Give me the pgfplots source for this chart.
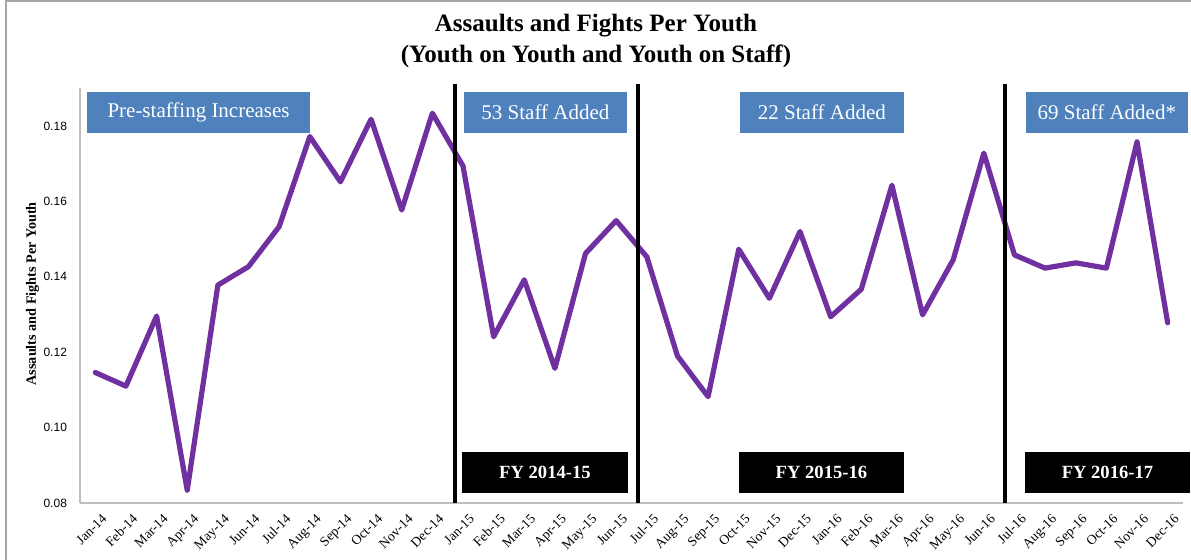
\documentclass[border=0pt]{standalone}
\usepackage{pgfplots}
\pgfplotsset{compat=1.18}
\usetikzlibrary{calc}
\usepackage{fontspec}
\setmainfont{Liberation Serif}
\newfontfamily\arial{Liberation Sans}

\definecolor{linepurple}{HTML}{7030A0}
\definecolor{boxblue}{HTML}{4F81BD}
\definecolor{axisgray}{HTML}{BFBFBF}
\definecolor{framegray}{HTML}{A6A6A6}

\begin{document}
\begin{tikzpicture}[x=1pt,y=1pt]
\begin{axis}[
  scale only axis, width=551.5pt, height=207.5pt,
  xmin=-0.5, xmax=35.5, ymin=0.08, ymax=0.19008,
  axis x line=bottom, axis y line=left,
  axis line style={axisgray, line width=0.8pt, -},
  major tick length=0pt,
  xtick={0,...,35},
  xticklabels={Jan-14,Feb-14,Mar-14,Apr-14,May-14,Jun-14,Jul-14,Aug-14,Sep-14,Oct-14,Nov-14,Dec-14,
               Jan-15,Feb-15,Mar-15,Apr-15,May-15,Jun-15,Jul-15,Aug-15,Sep-15,Oct-15,Nov-15,Dec-15,
               Jan-16,Feb-16,Mar-16,Apr-16,May-16,Jun-16,Jul-16,Aug-16,Sep-16,Oct-16,Nov-16,Dec-16},
  xticklabel style={rotate=45, anchor=north east, font=\fontsize{6.8}{7}\selectfont, inner sep=0.5pt, yshift=-5pt, xshift=-1pt},
  ytick={0.08,0.10,0.12,0.14,0.16,0.18},
  yticklabel style={font=\arial\fontsize{6}{7}\selectfont, xshift=-3pt,
    /pgf/number format/fixed, /pgf/number format/fixed zerofill, /pgf/number format/precision=2,
    /pgf/number format/assume math mode=true},
  ylabel={\bfseries Assaults and Fights Per Youth},
  ylabel style={at={(axis description cs:-0.043,0.504)}, anchor=center, font=\fontsize{7.1}{8}\selectfont},
  clip=false,
]
\addplot[linepurple, line width=2.6pt, line join=round, line cap=round] coordinates {
  (0,0.1146) (1,0.1110) (2,0.1296) (3,0.0834) (4,0.1378) (5,0.1427)
  (6,0.1533) (7,0.1772) (8,0.1652) (9,0.1818) (10,0.1577) (11,0.1834)
  (12,0.1694) (13,0.1241) (14,0.1392) (15,0.1157) (16,0.1462) (17,0.1549)
  (18,0.1453) (19,0.1190) (20,0.1082) (21,0.1473) (22,0.1343) (23,0.1520)
  (24,0.1294) (25,0.1367) (26,0.1643) (27,0.1299) (28,0.1445) (29,0.1728)
  (30,0.1458) (31,0.1423) (32,0.1437) (33,0.1423) (34,0.1758) (35,0.1278)
};

% fiscal-year dividers
\draw[black, line width=2pt] (axis cs:11.74,0.08) -- (axis cs:11.74,0.19114);
\draw[black, line width=2pt] (axis cs:17.71,0.08) -- (axis cs:17.71,0.19114);
\draw[black, line width=2pt] (axis cs:29.69,0.08) -- (axis cs:29.69,0.19114);

% staffing callouts
\fill[boxblue] (axis cs:-0.27,0.1781) rectangle (axis cs:7.01,0.1890);
\node[white, font=\fontsize{10.5}{12}\selectfont] at (axis cs:3.37,0.18355) {Pre-staffing Increases};
\fill[boxblue] (axis cs:12.03,0.1781) rectangle (axis cs:17.35,0.1890);
\node[white, font=\fontsize{10.5}{12}\selectfont] at (axis cs:14.69,0.18355) {53 Staff Added};
\fill[boxblue] (axis cs:21.04,0.1781) rectangle (axis cs:26.39,0.1890);
\node[white, font=\fontsize{10.5}{12}\selectfont] at (axis cs:23.715,0.18355) {22 Staff Added};
\fill[boxblue] (axis cs:30.37,0.1781) rectangle (axis cs:35.66,0.1890);
\node[white, font=\fontsize{10.5}{12}\selectfont] at (axis cs:33.015,0.18355) {69 Staff Added*};

% fiscal-year labels
\fill[black] (axis cs:11.97,0.08265) rectangle (axis cs:17.38,0.09353);
\node[white, font=\bfseries\fontsize{9.3}{11}\selectfont] at (axis cs:14.675,0.08809) {FY 2014-15};
\fill[black] (axis cs:21.01,0.08265) rectangle (axis cs:26.39,0.09353);
\node[white, font=\bfseries\fontsize{9.3}{11}\selectfont] at (axis cs:23.70,0.08809) {FY 2015-16};
\fill[black] (axis cs:30.34,0.08265) rectangle (axis cs:35.73,0.09353);
\node[white, font=\bfseries\fontsize{9.3}{11}\selectfont] at (axis cs:33.035,0.08809) {FY 2016-17};

\coordinate (O) at (rel axis cs:0,0);
\end{axis}

% page frame and title, placed relative to the lower-left corner of the plot area
\begin{scope}[shift={($(O)+(-40,-28.5)$)}]
  \pgfresetboundingbox
  \path[use as bounding box] (0,0) rectangle (595.5,280);
  \draw[framegray, line width=0.8pt] (3,0) -- (3,279.5) -- (595.5,279.5);
  \node[align=center, font=\bfseries\fontsize{12.5}{15.5}\selectfont] at (298,259.5)
    {Assaults and Fights Per Youth\\(Youth on Youth and Youth on Staff)};
\end{scope}
\end{tikzpicture}
\end{document}
